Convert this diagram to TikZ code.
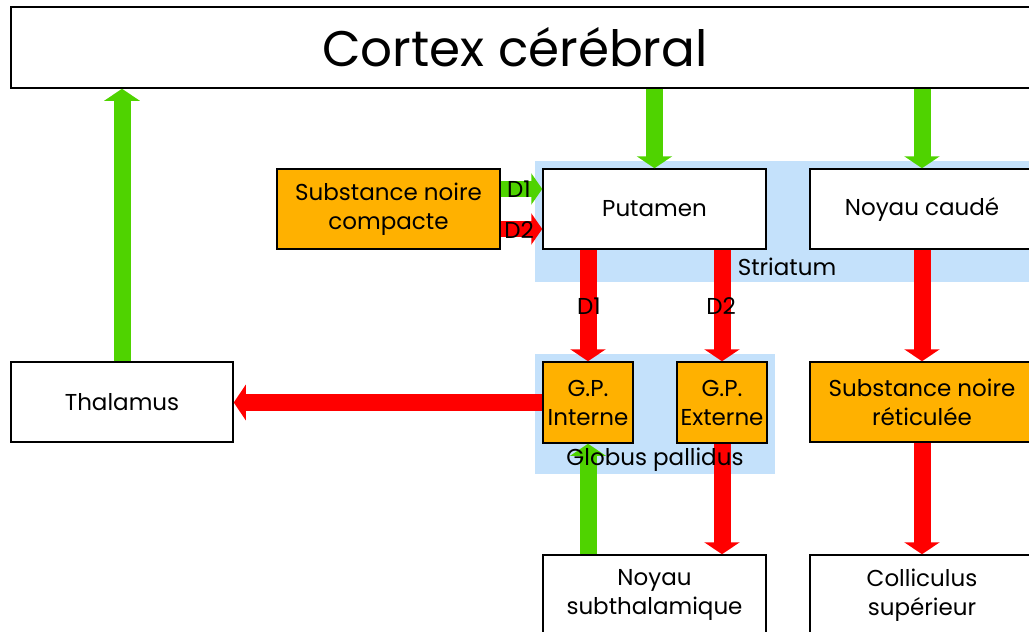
\documentclass[tikz,border=0pt]{standalone}
\usepackage{fontspec}
\setmainfont{Poppins}
\usetikzlibrary{arrows.meta}
\definecolor{agreen}{HTML}{4FD300}
\definecolor{ared}{HTML}{FF0000}
\definecolor{aorange}{HTML}{FFB100}
\definecolor{ablue}{HTML}{C4E1FB}
\tikzset{
  box/.style={draw=black, line width=1.5pt, fill=white, minimum width=223pt, minimum height=80pt, inner sep=0pt, align=center, font=\fontsize{23}{29}\selectfont},
  obox/.style={box, fill=aorange},
  gbox/.style={obox, minimum width=90pt, minimum height=81pt},
  bg/.style={fill=ablue, draw=none},
  garrow/.style={draw=agreen, line width=17pt, -{Triangle[width=35pt,length=12pt]}},
  rarrow/.style={draw=ared, line width=17pt, -{Triangle[width=35pt,length=12pt]}},
  sgarrow/.style={draw=agreen, line width=16pt, -{Triangle[width=31pt,length=11pt]}},
  srarrow/.style={draw=ared, line width=16pt, -{Triangle[width=31pt,length=11pt]}},
  lbl/.style={inner sep=0pt, font=\fontsize{23}{27}\selectfont}
}
\begin{document}
\begin{tikzpicture}[x=1pt,y=-1pt]
\useasboundingbox (0,0) rectangle (1029,632);
\clip (0,0) rectangle (1029,632);
% background groups
\fill[bg] (535,161) rectangle (1040,282);
\fill[bg] (535,354) rectangle (775,474);
% nodes
\node[box, minimum width=1030pt, minimum height=81pt] (cortex) at (526,47.5) {};
\node[inner sep=0pt, font=\fontsize{50}{60}\selectfont] (cortextxt) at (515,47) {Cortex cérébral};
\node[obox] (snc) at (388.5,209) {Substance noire\\compacte};
\node[box] (put) at (654.5,209) {Putamen};
\node[box, minimum width=224pt] (caud) at (922,209) {Noyau caudé};
\node[box, minimum width=222pt] (thal) at (122,402) {Thalamus};
\node[gbox] (gpi) at (588,402.5) {G.P.\\Interne};
\node[gbox] (gpe) at (722,402.5) {G.P.\\Externe};
\node[obox, minimum width=224pt] (snr) at (922,402) {Substance noire\\réticulée};
\node[box] (nst) at (654.5,595) {Noyau\\subthalamique};
\node[box, minimum width=224pt] (coll) at (922,595) {Colliculus\\supérieur};
% connectors
\draw[garrow] (thal.north) -- (thal.north |- cortex.south);
\draw[garrow] (put.north |- cortex.south) -- (put.north);
\draw[garrow] (caud.north |- cortex.south) -- (caud.north);
\draw[sgarrow] ([yshift=20pt]snc.east) -- ([yshift=20pt]put.west);
\draw[srarrow] ([yshift=-20pt]snc.east) -- ([yshift=-20pt]put.west);
\draw[rarrow] (gpi.north |- put.south) -- (gpi.north);
\draw[rarrow] (gpe.north |- put.south) -- (gpe.north);
\draw[rarrow] (caud.south) -- (snr.north);
\draw[rarrow] (gpi.west) -- (gpi.west -| thal.east);
\draw[garrow] (nst.north -| gpi.south) -- (gpi.south);
\draw[rarrow] (gpe.south) -- (gpe.south |- nst.north);
\draw[rarrow] (snr.south) -- (coll.north);
% labels
\node[lbl] (d1a) at (519,189) {D1};
\node[lbl] (d2a) at (519,230) {D2};
\node[lbl] (d1b) at (589,306) {D1};
\node[lbl] (d2b) at (721,306) {D2};
\node[lbl] (stri) at (787,267) {Striatum};
\node[lbl] (glob) at (655,460) {Globus pallidus};
\end{tikzpicture}
\end{document}
